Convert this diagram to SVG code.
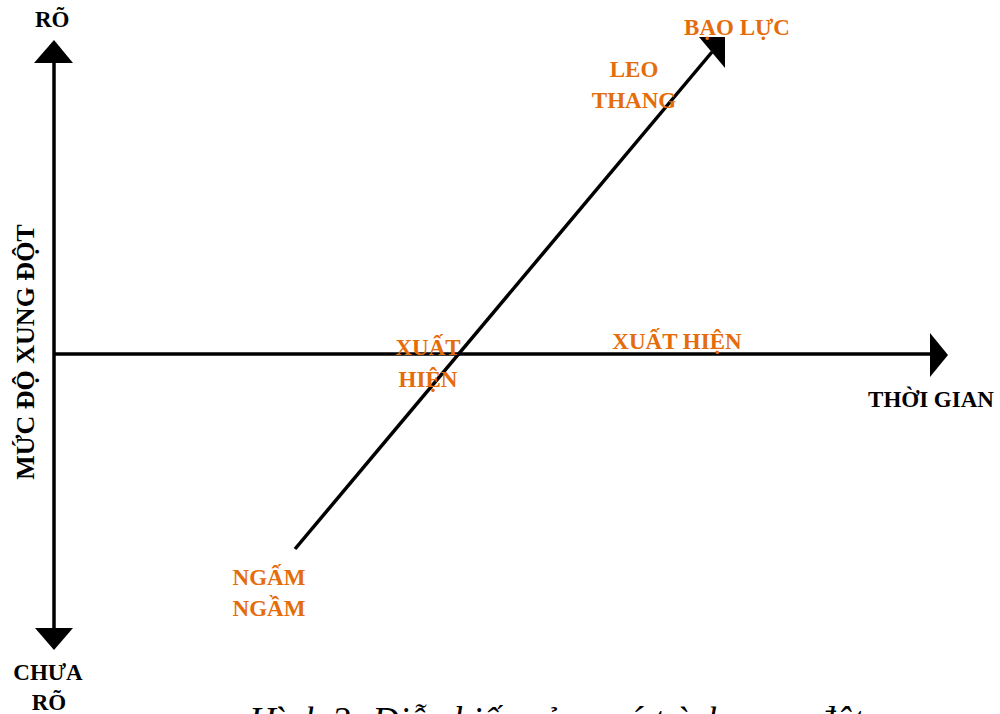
<svg xmlns="http://www.w3.org/2000/svg" width="1000" height="714" viewBox="0 0 1000 714">
<style>
.lbl{font-family:"Liberation Serif","Times New Roman",serif;font-weight:bold;font-size:23px;}
.blk{fill:#000;}
.org{fill:#E46C0A;}
.ax{stroke:#000;stroke-width:3.5;fill:none;}
.cap{font-family:"Liberation Serif","Times New Roman",serif;font-style:italic;font-size:37px;fill:#000;}
</style>
<rect width="1000" height="714" fill="#fff"/>
<g id="connectors">
<line class="ax" x1="54" y1="60" x2="54" y2="630"/>
<polygon points="54,40 34,63 73,63" fill="#000"/>
<polygon points="35,628 73,628 54,650" fill="#000"/>
<line class="ax" x1="54" y1="354" x2="932" y2="354"/>
<polygon points="930,333 948,355 930,377" fill="#000"/>
<line class="ax" x1="295" y1="549" x2="712" y2="52" stroke-width="4"/>
<polygon points="699,37 725,37 725,68" fill="#000"/>
</g>
<g id="axis-labels">
<text class="lbl blk" x="35" y="27">RÕ</text>
<text class="lbl blk" x="48" y="680" text-anchor="middle">CHƯA</text>
<text class="lbl blk" x="49" y="710" text-anchor="middle">RÕ</text>
<text class="lbl blk" x="931" y="407" text-anchor="middle">THỜI GIAN</text>
<text class="lbl blk" transform="translate(34,352) rotate(-90)" text-anchor="middle" style="font-size:26px">MỨC ĐỘ XUNG ĐỘT</text>
</g>
<g id="node-baoluc"><text class="lbl org" x="737" y="35" text-anchor="middle">BẠO LỰC</text></g>
<g id="node-leothang">
<text class="lbl org" x="634" y="77" text-anchor="middle">LEO</text>
<text class="lbl org" x="634" y="108" text-anchor="middle">THANG</text>
</g>
<g id="node-xuathien1">
<text class="lbl org" x="428" y="355" text-anchor="middle">XUẤT</text>
<text class="lbl org" x="428" y="387" text-anchor="middle">HIỆN</text>
</g>
<g id="node-xuathien2"><text class="lbl org" x="677" y="349" text-anchor="middle">XUẤT HIỆN</text></g>
<g id="node-ngamngam">
<text class="lbl org" x="269" y="585" text-anchor="middle">NGẤM</text>
<text class="lbl org" x="269" y="616" text-anchor="middle">NGẦM</text>
</g>
<g id="caption"><text class="cap" x="249" y="733">Hình 3: Diễn biến của quá trình xung đột</text></g>
</svg>
